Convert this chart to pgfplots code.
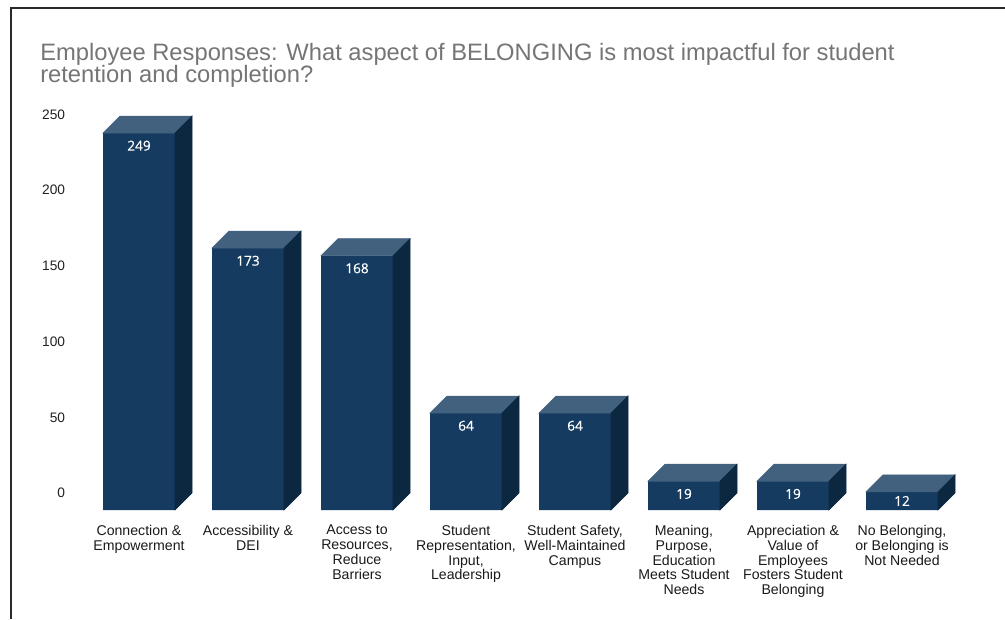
\documentclass[border=0pt]{standalone}
\usepackage{pgfplots}
\pgfplotsset{compat=1.18}
\usepackage{fontspec}
\setmainfont{Liberation Sans}
\newfontfamily\valfont[FakeBold=0.6]{Open Sans}
\definecolor{frontc}{HTML}{153B60}
\definecolor{topc}{HTML}{41617F}
\definecolor{sidec}{HTML}{0C2740}
\definecolor{titlec}{HTML}{757575}
\definecolor{framec}{HTML}{2A2A2A}
\begin{document}
\begin{tikzpicture}
\useasboundingbox (-55.2pt,-81.75pt) rectangle (698.55pt,382.5pt);
\draw[framec, line width=1.5pt] (-46.95pt,-82pt) -- (-46.95pt,376.5pt) -- (699pt,376.5pt);
\node[anchor=north west, inner sep=0pt, align=left, text=titlec,
      font=\fontsize{17.8pt}{16.9pt}\selectfont] at (-25.2pt,350.5pt)
  {Employee Responses: What aspect of BELONGING is most impactful for student\\retention and completion?};
\begin{axis}[
  scale only axis,
  width=670.35pt, height=283.875pt,
  xmin=-0.6, xmax=7.6, ymin=0, ymax=250,
  clip=false,
  axis line style={draw=none},
  tick style={draw=none},
  ytick={0,50,100,150,200,250},
  /pgf/number format/assume math mode=true,
  yticklabel style={anchor=east, inner sep=0pt, xshift=-6.2pt, yshift=12.75pt,
     font=\fontsize{10.3pt}{12pt}\selectfont, text=black!87},
  xtick={0,1,2,3,4,5,6,7},
  xticklabels={{Connection \&\\Empowerment},{Accessibility \&\\DEI},{Access to\\Resources,\\Reduce\\Barriers},{Student\\Representation,\\Input,\\Leadership},{Student Safety,\\Well-Maintained\\Campus},{Meaning,\\Purpose,\\Education\\Meets Student\\Needs},{Appreciation \&\\Value of\\Employees\\Fosters Student\\Belonging},{No Belonging,\\or Belonging is\\Not Needed}},
  xticklabel style={anchor=north, inner sep=0pt, yshift=-11pt, align=center,
     font=\fontsize{10.6pt}{11.2pt}\selectfont, text=black!90},
]
\addplot[ybar, bar width=54pt, bar shift=0pt, fill=frontc, draw=none,
  visualization depends on={y \as \vv},
  nodes near coords,
  every node near coord/.append style={anchor=center,
     yshift={-min(9.5,\vv*0.56775)*1pt}, text=white,
     font=\valfont\fontsize{10.2pt}{11pt}\selectfont}]
  coordinates {(0,249) (1,173) (2,168) (3,64) (4,64) (5,19) (6,19) (7,12)};
\addplot[scatter, only marks, mark=*, mark size=0pt, mark options={draw=none,fill=none},
  visualization depends on={y \as \val},
  scatter/@pre marker code/.code={%
    \pgfmathsetmacro\hh{\val*1.1355}%
    \fill[topc] (-27pt,0pt) -- (-14.25pt,12.75pt) -- (39.75pt,12.75pt) -- (27pt,0pt) -- cycle;
    \fill[sidec] (27pt,0pt) -- (39.75pt,12.75pt) -- (39.75pt,{(12.75-\hh)*1pt}) -- (27pt,{-\hh*1pt}) -- cycle;
    \begin{scope}},
  scatter/@post marker code/.code={\end{scope}}]
  coordinates {(0,249) (1,173) (2,168) (3,64) (4,64) (5,19) (6,19) (7,12)};
\end{axis}
\end{tikzpicture}
\end{document}
